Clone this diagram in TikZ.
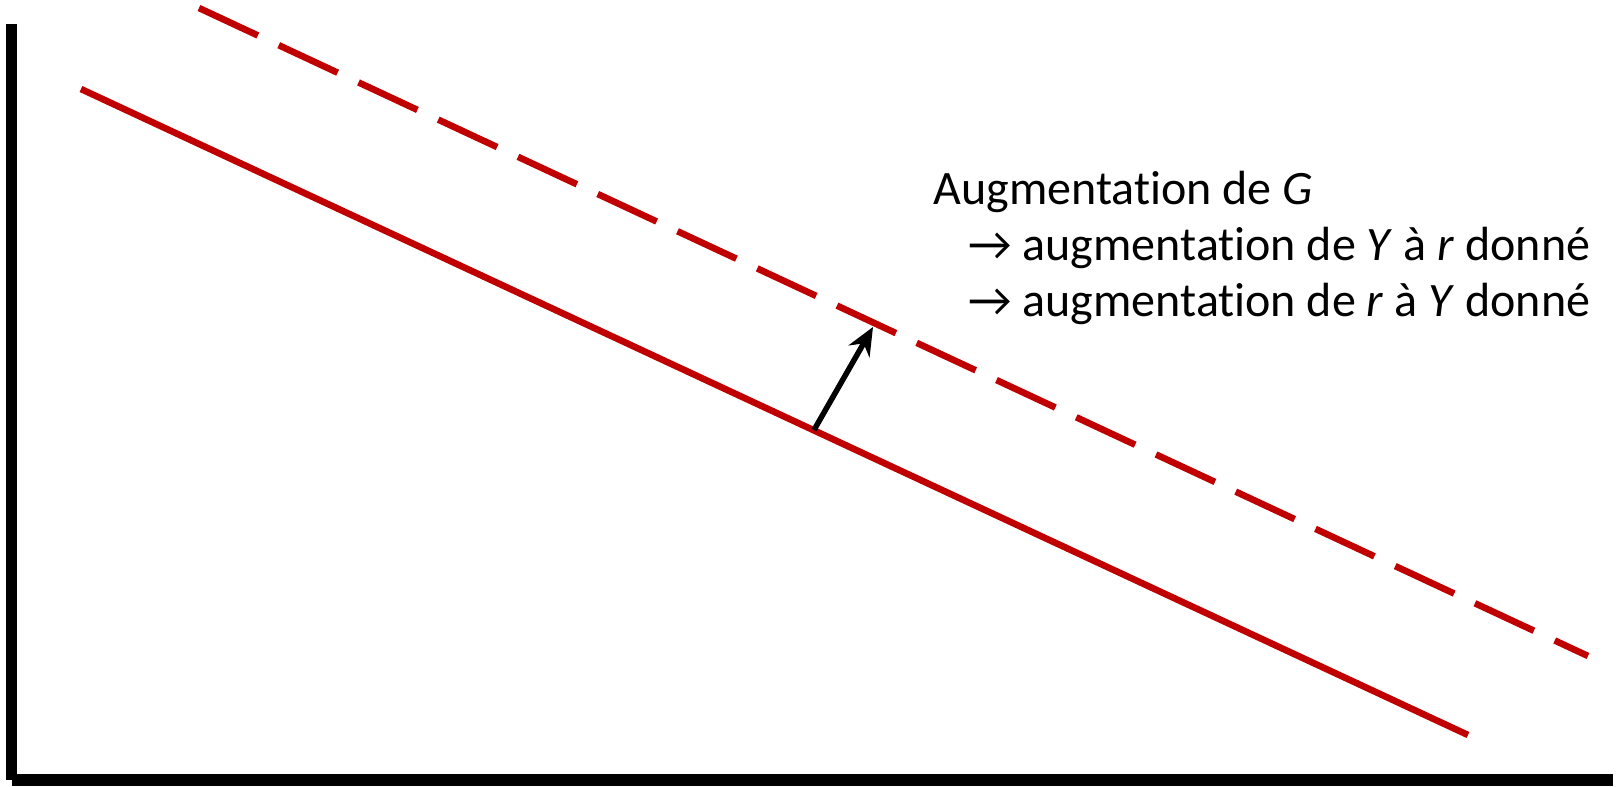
\documentclass[tikz,border=0pt]{standalone}
\usepackage{fontspec}
\setmainfont{Carlito}[RawFeature=-liga]
\usetikzlibrary{arrows.meta}
\definecolor{darkred}{HTML}{C00000}
\tikzset{
  axisline/.style={draw=black, line width=5.75pt},
  baseline/.style={draw=darkred, line width=3.3pt},
  shiftline/.style={baseline, dash pattern=on 32.5pt off 11.5pt},
  shiftarrow/.style={-{Stealth[length=14pt,width=12pt]}, line width=2.75pt},
  note/.style={align=left, anchor=base west, inner sep=0pt, font=\fontsize{24pt}{28pt}\selectfont}
}

\begin{document}
\begin{tikzpicture}[x=0.5pt,y=-0.5pt]
  \useasboundingbox (0,0) rectangle (1619,787);

  \coordinate (ytop) at (11.5,24);
  \coordinate (orig) at (11.5,780);
  \coordinate (xend) at (1613,780);

  \coordinate (s0) at (81,89);
  \coordinate (s1) at (1468,735);
  \coordinate (d0) at (199,8);
  \coordinate (d1) at (1588,656);

  \coordinate (afrom) at (814,430);
  \coordinate (ato) at (873,327);

  \node[note] (txt) at (933,316) {Augmentation de \textit{G}\\
    \hspace*{17.5pt}→ augmentation de \textit{Y} à \textit{r} donné\\
    \hspace*{17.5pt}→ augmentation de \textit{r} à \textit{Y} donné};

  \draw[axisline] (ytop) -- (orig);
  \draw[axisline] (orig) -- (xend);

  \draw[baseline] (s0) -- (s1);
  \draw[shiftline] (d0) -- (d1);

  \draw[shiftarrow] (afrom) -- (ato);
\end{tikzpicture}
\end{document}
